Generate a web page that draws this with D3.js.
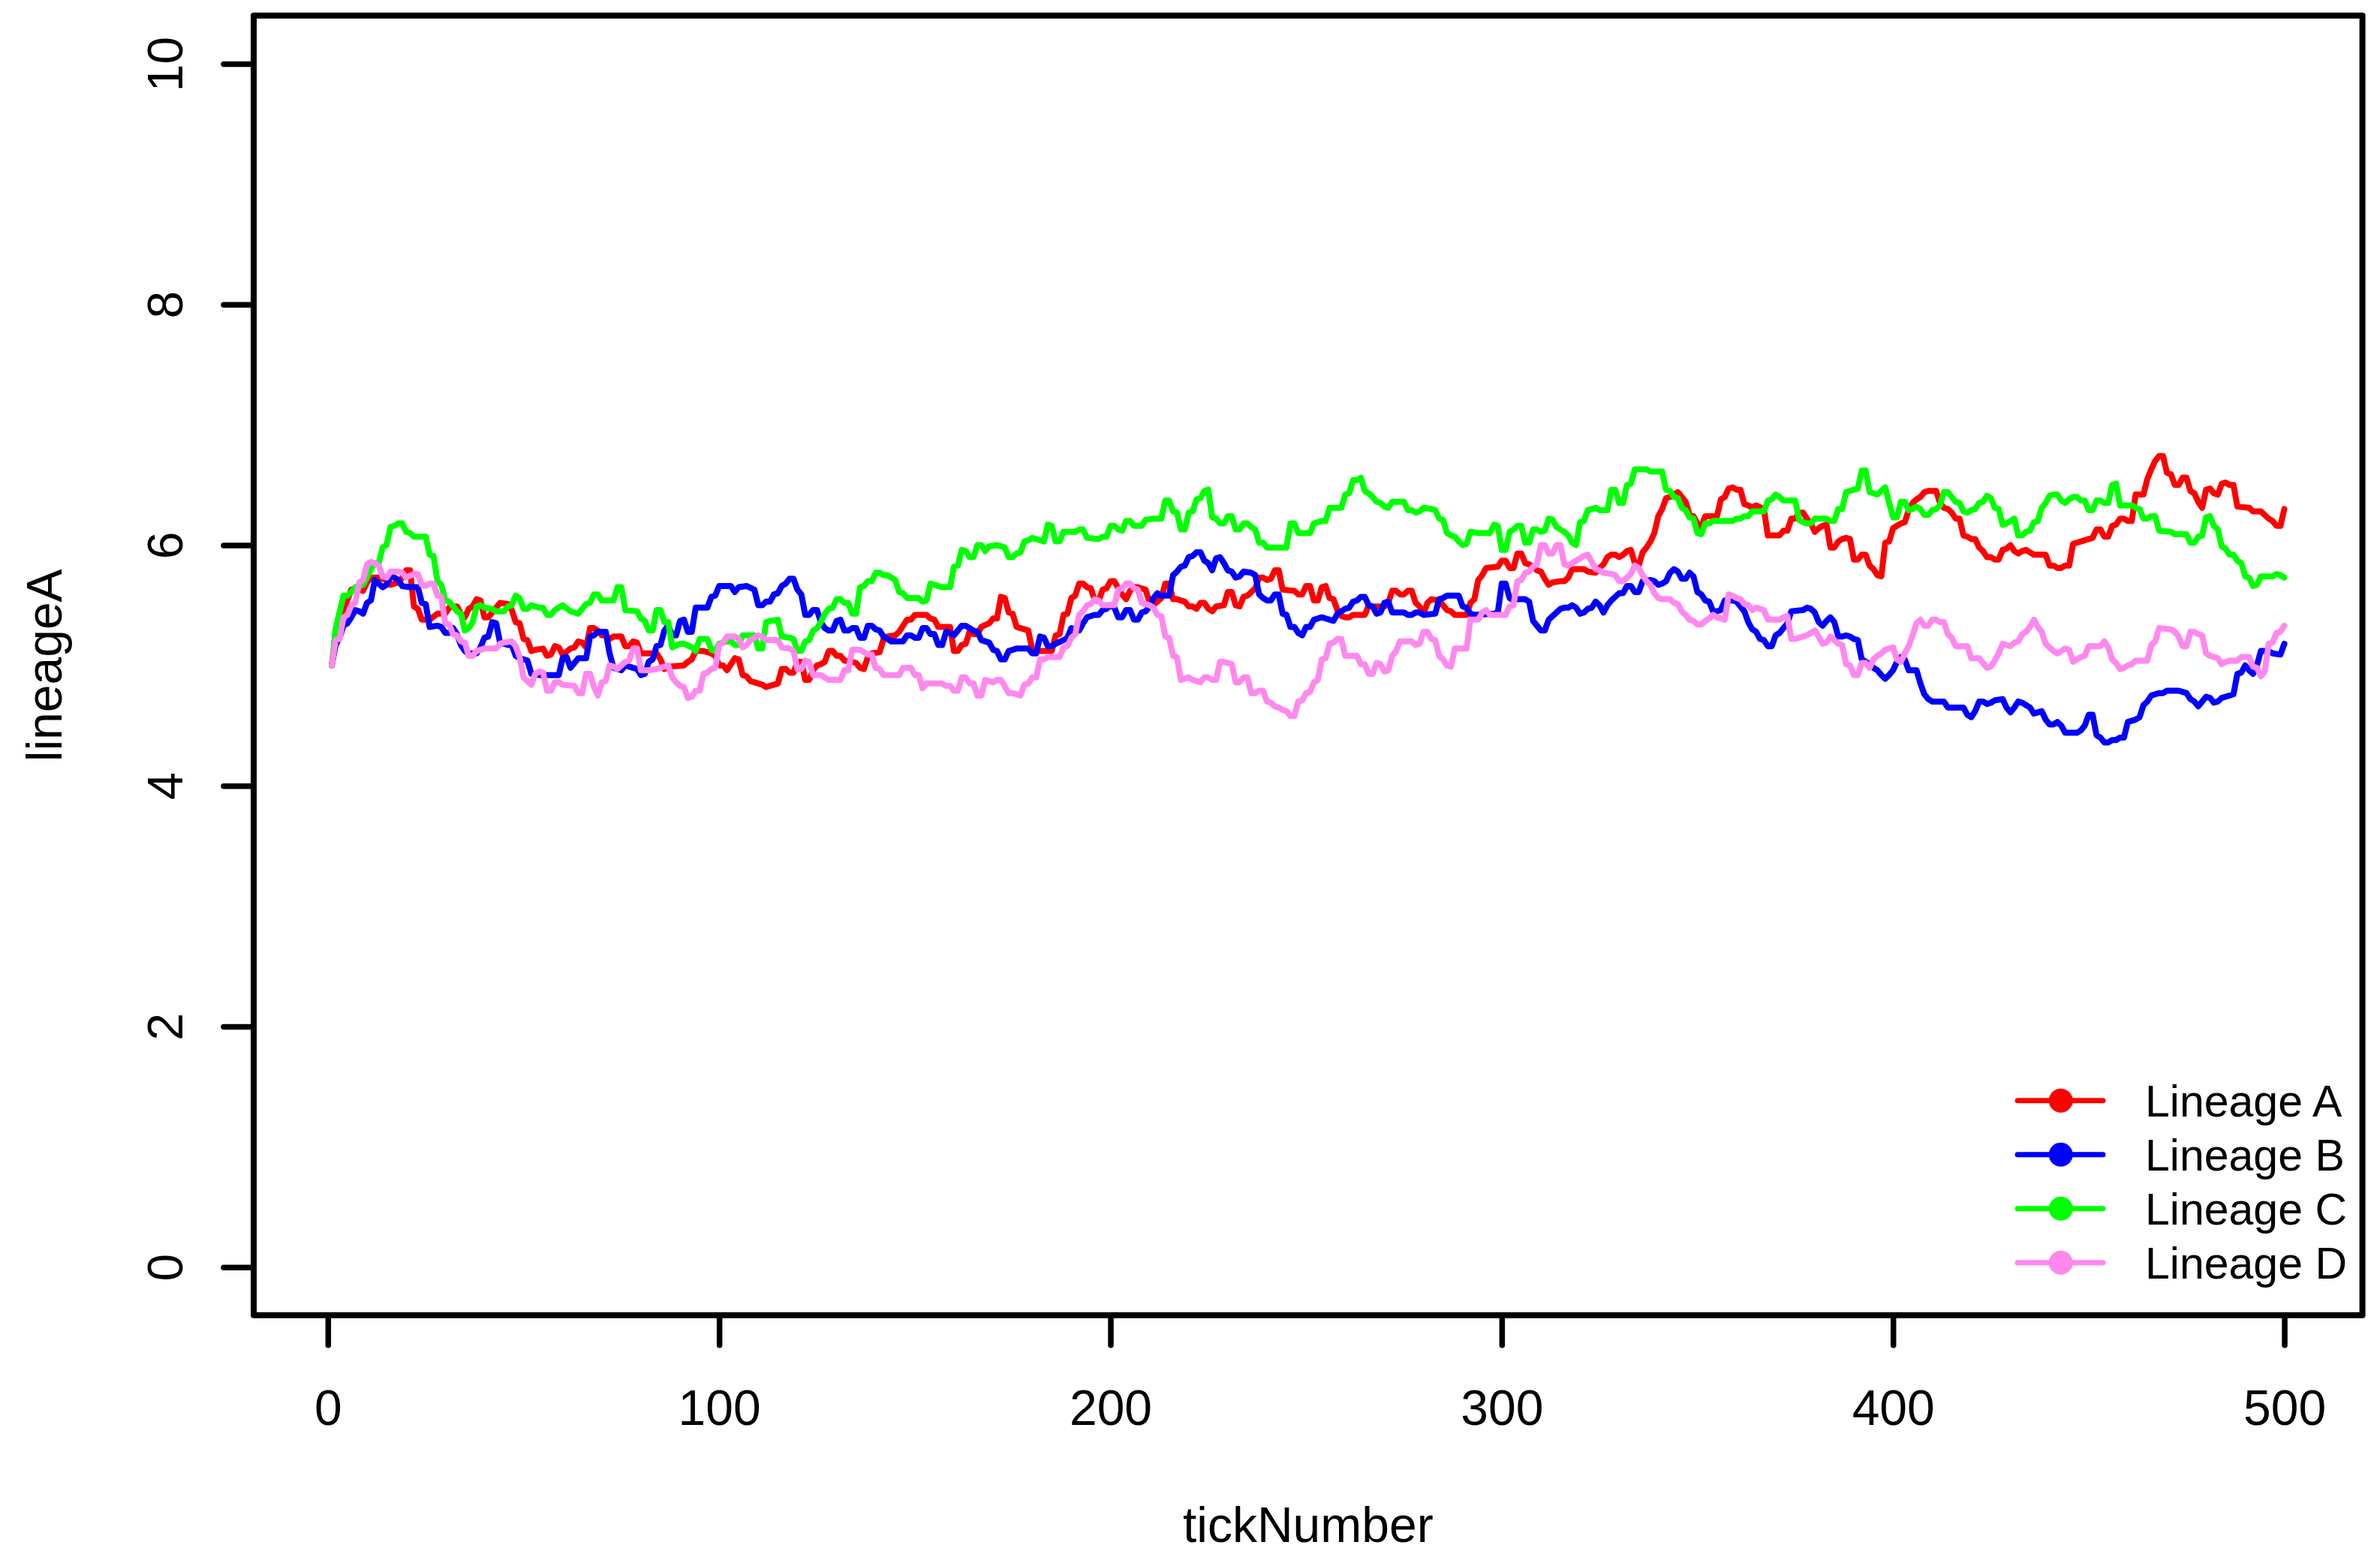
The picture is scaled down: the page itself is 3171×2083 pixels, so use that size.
<!DOCTYPE html>
<html>
<head>
<meta charset="utf-8">
<script src="https://cdn.jsdelivr.net/npm/d3@7"></script>
<style>
  body { margin: 0; background: #fff; }
  svg { display: block; }
  text { font-family: "Liberation Sans", Arial, Helvetica, sans-serif; }
</style>
</head>
<body>
<div class="app"></div>
<script>
// Data: [tickNumber, value]
const lineageA = [
  [1,5.00],[2,5.25],[4,5.46],[6,5.63],[7,5.64],[9,5.62],[10,5.69],[11,5.73],[13,5.73],[15,5.71],[16,5.67],[18,5.69],[19,5.73],[20,5.79],[21,5.79],[22,5.49],[23,5.47],[24,5.38],[26,5.38],[28,5.43],[30,5.43],[31,5.48],[33,5.49],[34,5.43],[35,5.40],[36,5.47],[37,5.49],[38,5.55],[39,5.54],[40,5.40],[41,5.40],[43,5.48],[44,5.52],[46,5.51],[47,5.46],[48,5.36],[49,5.35],[50,5.22],[51,5.21],[52,5.12],[53,5.13],[55,5.14],[56,5.08],[57,5.09],[58,5.16],[59,5.15],[60,5.09],[62,5.14],[63,5.15],
  [64,5.20],[65,5.19],[66,5.15],[67,5.31],[68,5.31],[69,5.29],[70,5.25],[71,5.25],[72,5.22],[73,5.24],[75,5.24],[76,5.16],[77,5.16],[78,5.20],[79,5.19],[80,5.10],[84,5.10],[85,5.05],[86,4.97],[87,4.99],[91,5.00],[92,5.03],[93,5.05],[94,5.12],[96,5.12],[98,5.10],[99,5.08],[100,5.00],[101,5.00],[102,4.96],[103,5.01],[104,5.06],[105,5.05],[106,4.92],[107,4.91],[108,4.87],[110,4.85],[111,4.84],[112,4.82],[114,4.84],[115,4.85],[116,4.97],[117,4.97],[118,4.94],[119,4.94],[120,5.03],[121,5.03],[122,4.88],[123,4.88],[124,4.96],[125,5.00],
  [126,5.01],[127,5.03],[128,5.12],[129,5.12],[130,5.08],[131,5.08],[132,5.04],[134,5.03],[135,5.02],[136,4.98],[137,4.97],[138,5.07],[139,5.10],[141,5.11],[142,5.22],[143,5.24],[145,5.25],[146,5.28],[147,5.33],[148,5.38],[149,5.38],[150,5.42],[153,5.42],[154,5.39],[155,5.38],[156,5.32],[159,5.32],[160,5.12],[161,5.12],[162,5.17],[163,5.18],[164,5.28],[165,5.26],[166,5.26],[167,5.32],[169,5.35],[170,5.39],[171,5.39],[172,5.57],[173,5.56],[174,5.44],[175,5.43],[176,5.32],[177,5.31],[178,5.30],[179,5.29],[180,5.13],[181,5.12],[185,5.12],[186,5.25],[187,5.26],[188,5.42],[189,5.43],
  [190,5.56],[191,5.58],[192,5.68],[193,5.68],[194,5.65],[195,5.64],[196,5.54],[197,5.54],[198,5.63],[199,5.64],[200,5.70],[201,5.70],[202,5.64],[203,5.59],[204,5.55],[205,5.62],[206,5.65],[207,5.65],[209,5.63],[210,5.52],[211,5.50],[212,5.53],[213,5.56],[214,5.68],[215,5.68],[216,5.55],[217,5.55],[219,5.53],[220,5.49],[221,5.49],[222,5.47],[223,5.52],[224,5.52],[225,5.47],[226,5.45],[227,5.49],[229,5.50],[230,5.61],[231,5.61],[232,5.50],[233,5.49],[234,5.57],[235,5.58],[236,5.61],[237,5.64],[238,5.73],[239,5.73],[240,5.71],[241,5.72],[242,5.79],[243,5.79],[244,5.63],[247,5.62],[248,5.59],[249,5.59],[250,5.66],[251,5.66],[252,5.54],[253,5.54],[254,5.65],
  [255,5.66],[256,5.56],[257,5.55],[258,5.46],[259,5.41],[260,5.40],[261,5.40],[262,5.42],[265,5.42],[266,5.50],[267,5.49],[270,5.49],[271,5.52],[272,5.62],[273,5.62],[274,5.59],[275,5.59],[276,5.62],[277,5.62],[278,5.52],[279,5.49],[280,5.43],[281,5.52],[282,5.55],[284,5.54],[285,5.50],[286,5.46],[287,5.45],[288,5.42],[291,5.42],[292,5.52],[293,5.55],[294,5.71],[295,5.75],[296,5.81],[299,5.82],[300,5.87],[301,5.87],[302,5.81],[303,5.81],[304,5.93],[305,5.93],[306,5.85],[307,5.84],[308,5.82],[309,5.79],[310,5.78],[311,5.72],[312,5.67],[313,5.69],[315,5.70],[316,5.70],[317,5.73],
  [318,5.80],[321,5.80],[322,5.78],[324,5.77],[325,5.81],[326,5.84],[327,5.90],[328,5.92],[329,5.92],[330,5.90],[331,5.92],[332,5.95],[333,5.96],[334,5.85],[335,5.83],[336,5.94],[337,5.98],[338,6.03],[339,6.10],[340,6.24],[341,6.30],[342,6.39],[343,6.40],[344,6.42],[345,6.44],[346,6.40],[347,6.36],[348,6.25],[349,6.24],[350,6.18],[351,6.15],[352,6.24],[355,6.24],[356,6.38],[357,6.40],[358,6.47],[359,6.48],[360,6.46],[361,6.46],[362,6.34],[363,6.33],[364,6.31],[365,6.33],[367,6.30],[368,6.08],[371,6.08],[372,6.12],[373,6.12],[374,6.22],[375,6.22],[376,6.27],[377,6.27],[378,6.22],
  [379,6.18],[380,6.11],[381,6.14],[382,6.16],[383,6.17],[384,5.98],[385,5.98],[386,6.03],[387,6.05],[388,6.06],[389,6.05],[390,5.88],[391,5.88],[392,5.92],[393,5.92],[394,5.83],[395,5.80],[396,5.75],[397,5.74],[398,6.02],[399,6.03],[400,6.14],[401,6.16],[402,6.18],[403,6.19],[404,6.29],[405,6.35],[406,6.38],[407,6.40],[408,6.44],[409,6.45],[411,6.45],[412,6.35],[413,6.31],[414,6.30],[415,6.27],[416,6.22],[417,6.22],[418,6.08],[419,6.07],[420,6.05],[421,6.05],[422,5.98],[423,5.95],[424,5.90],[425,5.90],[426,5.88],[427,5.88],[428,5.96],[429,5.97],[430,6.00],[431,5.95],[432,5.93],[433,5.95],[434,5.96],[435,5.94],[436,5.92],[439,5.92],[440,5.83],[441,5.83],[442,5.81],[443,5.81],[444,5.83],
  [445,5.83],[446,6.01],[447,6.02],[448,6.03],[449,6.04],[450,6.05],[451,6.06],[452,6.13],[453,6.13],[454,6.07],[455,6.07],[456,6.16],[457,6.17],[458,6.22],[459,6.22],[460,6.20],[461,6.20],[462,6.42],[464,6.42],[465,6.55],[466,6.63],[467,6.70],[468,6.74],[469,6.74],[470,6.60],[471,6.59],[472,6.50],[473,6.50],[474,6.56],[475,6.56],[476,6.45],[477,6.43],[478,6.36],[479,6.31],[480,6.46],[481,6.47],[482,6.43],[483,6.42],[484,6.51],[485,6.52],[486,6.50],[487,6.50],[488,6.32],[491,6.31],[492,6.28],[494,6.28],[495,6.25],[496,6.22],[497,6.20],[498,6.16],[499,6.16],[500,6.30]
];

const lineageB = [
  [1,5.00],[2,5.17],[3,5.23],[4,5.33],[5,5.35],[6,5.40],[7,5.46],[8,5.45],[9,5.43],[10,5.52],[11,5.54],[12,5.71],[13,5.68],[14,5.65],[15,5.67],[16,5.74],[17,5.73],[18,5.71],[19,5.66],[21,5.65],[23,5.65],[24,5.52],[25,5.51],[26,5.32],[28,5.33],[29,5.32],[30,5.27],[31,5.27],[32,5.31],[33,5.26],[34,5.17],[35,5.12],[36,5.10],[38,5.10],[39,5.15],[40,5.23],[41,5.24],[42,5.36],[43,5.35],[44,5.19],[46,5.17],[47,5.17],[48,5.08],[49,5.06],[51,5.04],[52,4.93],[54,4.92],[59,4.92],[60,5.06],[61,5.07],[62,4.98],
  [64,5.06],[66,5.06],[67,5.24],[68,5.25],[69,5.28],[71,5.28],[72,5.10],[73,4.98],[75,4.96],[76,5.00],[77,4.99],[79,4.97],[80,4.92],[81,4.93],[82,5.03],[83,5.05],[84,5.16],[85,5.17],[86,5.29],[87,5.33],[88,5.25],[89,5.25],[90,5.37],[91,5.38],[92,5.28],[93,5.28],[94,5.48],[97,5.48],[98,5.57],[99,5.58],[100,5.66],[103,5.66],[104,5.61],[105,5.65],[107,5.66],[109,5.63],[110,5.50],[111,5.50],[112,5.53],[113,5.53],[114,5.59],[115,5.60],[116,5.66],[117,5.68],[118,5.72],[119,5.72],[120,5.63],[121,5.59],[122,5.42],[123,5.42],[124,5.46],[125,5.46],[126,5.36],[127,5.31],
  [128,5.29],[129,5.29],[130,5.37],[131,5.38],[132,5.29],[133,5.29],[134,5.31],[135,5.31],[136,5.23],[137,5.23],[138,5.33],[139,5.33],[140,5.30],[141,5.29],[142,5.24],[143,5.22],[144,5.20],[147,5.20],[148,5.25],[149,5.25],[150,5.23],[151,5.23],[152,5.31],[153,5.31],[154,5.26],[155,5.26],[156,5.17],[157,5.17],[158,5.28],[159,5.27],[160,5.25],[162,5.33],[163,5.33],[164,5.31],[165,5.29],[166,5.28],[167,5.21],[169,5.19],[170,5.13],[171,5.12],[172,5.05],[173,5.05],[174,5.12],[175,5.13],[176,5.14],[179,5.14],[180,5.10],[181,5.10],[182,5.24],[183,5.23],[184,5.16],[185,5.16],[186,5.18],[188,5.21],[189,5.23],[190,5.31],
  [191,5.30],[192,5.29],[193,5.35],[194,5.40],[195,5.41],[196,5.42],[197,5.42],[198,5.46],[199,5.47],[200,5.50],[201,5.48],[202,5.40],[203,5.40],[204,5.46],[205,5.46],[206,5.38],[207,5.38],[208,5.44],[209,5.45],[210,5.49],[211,5.56],[212,5.60],[213,5.58],[215,5.58],[216,5.75],[217,5.78],[218,5.82],[219,5.83],[220,5.90],[221,5.91],[222,5.94],[223,5.94],[224,5.87],[225,5.85],[226,5.79],[227,5.89],[228,5.90],[229,5.85],[230,5.79],[231,5.78],[232,5.73],[233,5.74],[234,5.78],[236,5.77],[237,5.75],[238,5.59],[239,5.56],[240,5.54],[241,5.54],[242,5.59],[243,5.59],[244,5.43],[245,5.42],[246,5.32],[247,5.32],[248,5.27],[249,5.25],[250,5.32],[251,5.32],[252,5.38],[253,5.39],
  [254,5.40],[255,5.39],[256,5.38],[257,5.37],[258,5.43],[259,5.45],[260,5.47],[261,5.48],[262,5.53],[263,5.54],[264,5.57],[265,5.57],[266,5.50],[267,5.49],[268,5.43],[269,5.44],[270,5.52],[271,5.53],[272,5.44],[275,5.44],[276,5.42],[277,5.42],[278,5.44],[279,5.44],[280,5.42],[283,5.43],[284,5.55],[285,5.56],[286,5.58],[289,5.58],[290,5.49],[291,5.48],[292,5.43],[293,5.42],[298,5.43],[299,5.44],[300,5.68],[301,5.68],[302,5.56],[303,5.54],[304,5.55],[306,5.55],[307,5.53],[308,5.37],[309,5.33],[310,5.29],[311,5.29],[312,5.38],[313,5.41],[314,5.44],[315,5.47],[316,5.48],[317,5.48],
  [318,5.50],[319,5.48],[320,5.43],[321,5.44],[322,5.47],[323,5.48],[324,5.53],[325,5.50],[326,5.44],[327,5.50],[328,5.54],[329,5.57],[330,5.60],[331,5.60],[332,5.66],[333,5.66],[334,5.61],[335,5.61],[336,5.70],[338,5.71],[339,5.70],[340,5.67],[341,5.68],[342,5.70],[343,5.77],[344,5.80],[345,5.78],[346,5.72],[347,5.72],[348,5.77],[349,5.74],[350,5.61],[351,5.59],[352,5.54],[353,5.53],[354,5.45],[355,5.45],[356,5.46],[357,5.54],[359,5.54],[360,5.53],[361,5.49],[362,5.45],[363,5.36],[364,5.30],[365,5.28],[366,5.22],[367,5.21],[368,5.16],[369,5.16],[370,5.25],[371,5.27],[372,5.31],[373,5.35],[374,5.45],[377,5.46],[378,5.48],[379,5.47],[380,5.44],
  [381,5.36],[382,5.33],[383,5.37],[384,5.40],[385,5.36],[386,5.24],[387,5.24],[388,5.25],[389,5.24],[390,5.22],[391,5.21],[392,5.05],[393,5.03],[394,5.01],[395,4.98],[396,4.96],[397,4.92],[398,4.89],[399,4.92],[400,4.96],[401,5.03],[402,5.07],[403,5.05],[404,4.96],[406,4.96],[407,4.85],[408,4.76],[409,4.72],[410,4.70],[413,4.70],[414,4.65],[418,4.65],[419,4.59],[420,4.57],[421,4.62],[422,4.70],[423,4.70],[424,4.68],[425,4.69],[426,4.71],[428,4.72],[429,4.65],[430,4.61],[431,4.65],[432,4.70],[433,4.69],[434,4.67],[435,4.65],[436,4.60],[437,4.61],[438,4.62],[439,4.55],[440,4.51],[441,4.51],[442,4.53],[443,4.50],[444,4.44],
  [447,4.44],[448,4.46],[449,4.50],[450,4.59],[451,4.59],[452,4.42],[453,4.40],[454,4.36],[455,4.36],[456,4.38],[457,4.38],[458,4.40],[459,4.40],[460,4.53],[461,4.54],[462,4.55],[463,4.57],[464,4.67],[465,4.70],[466,4.75],[467,4.76],[468,4.77],[469,4.77],[470,4.79],[473,4.79],[474,4.78],[475,4.77],[476,4.72],[477,4.70],[478,4.66],[479,4.70],[480,4.74],[481,4.73],[482,4.69],[483,4.70],[484,4.73],[485,4.74],[486,4.75],[487,4.76],[488,4.93],[489,4.94],[490,5.00],[491,4.96],[492,4.93],[493,5.00],[494,5.12],[496,5.12],[497,5.10],[499,5.09],[500,5.18]
];

const lineageC = [
  [1,5.00],[2,5.31],[4,5.58],[5,5.58],[6,5.61],[7,5.65],[9,5.67],[10,5.73],[11,5.80],[12,5.85],[13,5.85],[14,5.98],[15,6.00],[16,6.15],[17,6.16],[18,6.18],[19,6.18],[20,6.11],[21,6.10],[22,6.07],[25,6.07],[26,5.92],[27,5.91],[28,5.70],[29,5.67],[30,5.54],[31,5.53],[33,5.45],[34,5.43],[35,5.29],[36,5.31],[37,5.36],[38,5.49],[39,5.50],[40,5.48],[42,5.47],[43,5.45],[45,5.45],[46,5.49],[47,5.50],[48,5.58],[49,5.56],[50,5.47],[51,5.47],[52,5.50],[54,5.48],[55,5.48],[56,5.42],[57,5.42],[58,5.46],[60,5.50],[62,5.45],[63,5.44],
  [64,5.43],[66,5.51],[67,5.52],[68,5.59],[69,5.59],[70,5.54],[73,5.54],[74,5.65],[75,5.65],[76,5.46],[79,5.45],[80,5.39],[81,5.37],[82,5.29],[83,5.29],[84,5.46],[85,5.46],[86,5.36],[87,5.36],[88,5.15],[90,5.18],[91,5.18],[93,5.15],[94,5.12],[95,5.22],[97,5.22],[98,5.13],[99,5.12],[100,5.18],[102,5.20],[103,5.20],[104,5.17],[105,5.17],[106,5.25],[109,5.25],[110,5.14],[111,5.14],[112,5.36],[113,5.37],[115,5.38],[116,5.24],[118,5.23],[119,5.22],[120,5.12],[121,5.12],[122,5.20],[123,5.21],[124,5.29],[125,5.31],[126,5.36],[127,5.43],
  [128,5.47],[129,5.48],[130,5.55],[131,5.55],[132,5.52],[133,5.52],[134,5.43],[135,5.43],[136,5.65],[137,5.66],[138,5.70],[139,5.70],[140,5.77],[141,5.77],[142,5.75],[143,5.75],[144,5.73],[145,5.71],[146,5.61],[147,5.60],[148,5.56],[151,5.56],[152,5.53],[153,5.54],[154,5.68],[155,5.67],[157,5.65],[159,5.65],[160,5.82],[161,5.83],[162,5.96],[163,5.95],[164,5.90],[165,5.90],[166,6.00],[167,6.00],[168,5.95],[169,5.99],[171,6.00],[173,5.98],[174,5.90],[175,5.90],[176,5.93],[177,5.94],[178,6.03],[179,6.04],[180,6.06],[182,6.04],[183,6.03],[184,6.17],[185,6.16],[186,6.03],[187,6.03],[188,6.11],[190,6.11],
  [191,6.11],[192,6.13],[193,6.13],[194,6.06],[197,6.05],[198,6.07],[199,6.07],[200,6.16],[201,6.16],[202,6.13],[203,6.12],[204,6.20],[205,6.20],[206,6.16],[208,6.16],[209,6.21],[211,6.22],[213,6.22],[214,6.37],[215,6.37],[216,6.28],[217,6.27],[218,6.13],[219,6.13],[220,6.27],[221,6.28],[222,6.38],[223,6.39],[224,6.45],[225,6.46],[226,6.23],[227,6.22],[228,6.18],[229,6.18],[230,6.24],[231,6.24],[232,6.13],[233,6.13],[234,6.18],[235,6.18],[236,6.15],[237,6.13],[238,6.02],[239,6.02],[240,5.98],[245,5.98],[246,6.18],[247,6.18],[248,6.10],[251,6.10],[252,6.18],[253,6.19],
  [254,6.20],[255,6.20],[256,6.31],[259,6.31],[260,6.42],[261,6.43],[262,6.54],[263,6.54],[264,6.56],[265,6.45],[266,6.43],[267,6.40],[268,6.36],[269,6.35],[270,6.32],[271,6.31],[272,6.36],[275,6.36],[276,6.29],[277,6.29],[278,6.27],[279,6.28],[280,6.31],[282,6.30],[283,6.29],[284,6.22],[285,6.21],[286,6.10],[287,6.08],[288,6.07],[289,6.03],[290,6.00],[291,6.01],[292,6.11],[294,6.10],[297,6.10],[298,6.17],[299,6.16],[300,5.96],[301,5.96],[302,6.11],[303,6.13],[304,6.16],[305,6.16],[306,6.02],[307,6.02],[308,6.13],[309,6.13],[310,6.11],[311,6.12],[312,6.22],[313,6.21],[314,6.15],[315,6.13],[316,6.11],[317,6.08],
  [318,6.02],[319,6.00],[320,6.19],[321,6.20],[322,6.29],[323,6.30],[324,6.31],[325,6.29],[327,6.29],[328,6.46],[329,6.46],[330,6.35],[331,6.35],[332,6.50],[333,6.51],[334,6.63],[337,6.63],[338,6.61],[341,6.61],[342,6.46],[343,6.45],[344,6.40],[345,6.39],[346,6.31],[347,6.29],[348,6.23],[349,6.22],[350,6.10],[351,6.09],[352,6.18],[353,6.18],[354,6.20],[359,6.20],[360,6.22],[361,6.22],[362,6.24],[363,6.24],[364,6.28],[367,6.28],[368,6.37],[369,6.38],[370,6.42],[371,6.40],[372,6.37],[375,6.37],[376,6.21],[377,6.19],[378,6.18],[379,6.18],[380,6.22],
  [381,6.22],[383,6.22],[384,6.20],[385,6.20],[386,6.30],[387,6.30],[388,6.44],[389,6.45],[390,6.46],[391,6.47],[392,6.62],[393,6.62],[394,6.44],[395,6.43],[396,6.42],[397,6.45],[398,6.48],[399,6.35],[400,6.23],[401,6.23],[402,6.36],[403,6.36],[404,6.29],[405,6.30],[406,6.32],[407,6.30],[408,6.25],[409,6.25],[410,6.29],[411,6.30],[412,6.33],[413,6.44],[414,6.44],[415,6.40],[416,6.36],[417,6.35],[418,6.28],[419,6.27],[420,6.29],[421,6.30],[422,6.35],[423,6.36],[424,6.41],[425,6.39],[426,6.31],[427,6.30],[428,6.17],[429,6.18],[430,6.20],[431,6.22],[432,6.08],[433,6.08],[434,6.11],[435,6.12],[436,6.19],[437,6.20],[438,6.31],[439,6.35],[440,6.41],[441,6.42],[442,6.42],[443,6.37],[444,6.35],
  [445,6.38],[446,6.40],[447,6.40],[448,6.37],[449,6.37],[450,6.29],[451,6.29],[452,6.37],[453,6.37],[454,6.35],[455,6.35],[456,6.50],[457,6.51],[458,6.33],[461,6.33],[462,6.31],[463,6.30],[464,6.22],[465,6.22],[466,6.24],[467,6.24],[468,6.12],[471,6.11],[472,6.09],[475,6.09],[476,6.02],[477,6.02],[478,6.07],[479,6.08],[480,6.23],[481,6.24],[482,6.16],[483,6.13],[484,5.99],[485,5.97],[486,5.92],[487,5.92],[488,5.87],[489,5.85],[490,5.74],[491,5.73],[492,5.66],[493,5.67],[494,5.74],[497,5.74],[498,5.76],[499,5.75],[500,5.73]
];

const lineageD = [
  [1,5.00],[2,5.21],[3,5.22],[4,5.40],[5,5.42],[6,5.50],[7,5.52],[8,5.69],[9,5.71],[10,5.84],[11,5.86],[12,5.85],[13,5.83],[14,5.74],[15,5.73],[16,5.78],[18,5.78],[19,5.77],[20,5.73],[22,5.76],[23,5.76],[24,5.67],[25,5.66],[26,5.68],[27,5.68],[28,5.58],[29,5.57],[30,5.35],[31,5.34],[32,5.26],[33,5.25],[34,5.20],[35,5.19],[36,5.08],[37,5.08],[38,5.12],[40,5.14],[43,5.14],[44,5.18],[45,5.19],[47,5.20],[48,5.16],[49,5.07],[50,4.90],[51,4.87],[52,4.84],[53,4.93],[54,4.95],[55,4.94],[56,4.79],[57,4.79],[58,4.86],[59,4.86],[60,4.84],[63,4.83],
  [64,4.77],[65,4.77],[66,4.93],[67,4.93],[68,4.82],[69,4.75],[70,4.86],[71,4.87],[72,5.00],[73,4.99],[74,4.97],[76,5.03],[77,5.04],[78,5.14],[79,5.14],[80,4.96],[82,4.96],[84,4.97],[85,4.98],[87,5.00],[88,4.90],[89,4.86],[90,4.83],[91,4.82],[92,4.73],[93,4.74],[94,4.79],[95,4.79],[96,4.93],[97,4.94],[98,4.97],[99,4.98],[100,5.17],[101,5.19],[102,5.24],[104,5.24],[105,5.22],[106,5.15],[107,5.17],[108,5.21],[109,5.23],[110,5.25],[111,5.24],[112,5.21],[115,5.21],[116,5.15],[118,5.14],[119,5.12],[120,4.97],[121,4.97],[122,5.04],[123,5.03],[124,4.92],
  [126,4.92],[127,4.90],[128,4.88],[131,4.88],[132,4.96],[133,4.96],[134,5.13],[136,5.13],[137,5.11],[138,5.09],[139,5.09],[140,4.98],[141,4.97],[142,4.92],[146,4.92],[147,4.98],[149,4.98],[150,4.92],[151,4.92],[152,4.81],[153,4.85],[157,4.85],[158,4.83],[159,4.83],[160,4.79],[161,4.79],[162,4.90],[163,4.90],[164,4.85],[165,4.85],[166,4.75],[167,4.75],[168,4.88],[169,4.87],[170,4.86],[171,4.88],[172,4.88],[174,4.77],[175,4.77],[177,4.75],[178,4.84],[179,4.85],[180,4.90],[181,4.90],[182,5.05],[183,5.05],[184,5.07],[187,5.07],[188,5.15],[189,5.16],[190,5.23],[191,5.26],
  [192,5.42],[193,5.45],[194,5.50],[195,5.51],[196,5.55],[197,5.54],[198,5.50],[201,5.50],[202,5.63],[203,5.64],[204,5.68],[205,5.68],[206,5.64],[207,5.63],[208,5.52],[209,5.51],[210,5.50],[211,5.48],[212,5.42],[213,5.41],[214,5.24],[215,5.23],[216,5.08],[217,5.07],[218,4.88],[219,4.89],[220,4.90],[221,4.88],[222,4.87],[223,4.86],[224,4.90],[225,4.90],[226,4.88],[227,4.88],[228,5.03],[229,5.03],[231,5.01],[232,4.86],[233,4.86],[234,4.90],[235,4.90],[236,4.77],[237,4.77],[238,4.79],[239,4.79],[240,4.70],[241,4.69],[242,4.66],[243,4.65],[244,4.63],[245,4.62],[246,4.58],[247,4.58],[248,4.70],[249,4.71],[250,4.77],[251,4.78],[252,4.86],[253,4.88],[254,5.05],
  [255,5.06],[256,5.18],[257,5.19],[258,5.22],[259,5.22],[260,5.08],[263,5.08],[264,5.01],[265,5.01],[266,4.93],[267,4.93],[268,5.02],[269,5.01],[270,4.95],[271,4.96],[272,5.08],[273,5.12],[274,5.20],[277,5.20],[278,5.17],[279,5.18],[280,5.28],[281,5.28],[282,5.22],[283,5.21],[284,5.08],[285,5.05],[286,5.00],[287,4.99],[288,5.14],[291,5.14],[292,5.38],[294,5.38],[295,5.44],[296,5.46],[297,5.42],[301,5.42],[302,5.49],[303,5.50],[304,5.70],[305,5.71],[306,5.77],[307,5.78],[308,5.82],[309,5.84],[310,6.00],[311,6.00],[312,5.93],[313,5.93],[314,6.00],[315,6.00],[316,5.84],[317,5.83],
  [318,5.85],[319,5.87],[320,5.89],[321,5.91],[322,5.92],[323,5.86],[324,5.80],[325,5.79],[326,5.77],[328,5.76],[329,5.75],[330,5.70],[331,5.70],[332,5.73],[333,5.76],[334,5.83],[335,5.81],[336,5.75],[337,5.70],[338,5.67],[339,5.60],[340,5.56],[341,5.55],[343,5.55],[344,5.52],[345,5.51],[346,5.45],[347,5.42],[348,5.38],[349,5.37],[350,5.34],[351,5.34],[352,5.37],[353,5.39],[354,5.42],[355,5.40],[357,5.38],[358,5.59],[359,5.58],[360,5.56],[361,5.55],[362,5.51],[363,5.50],[364,5.46],[365,5.48],[367,5.46],[368,5.38],[371,5.38],[372,5.40],[373,5.41],[374,5.22],[375,5.22],[376,5.23],[377,5.24],[378,5.25],[379,5.27],[380,5.29],
  [381,5.24],[382,5.18],[383,5.19],[384,5.24],[385,5.21],[386,5.18],[387,5.17],[388,5.01],[389,5.00],[390,4.92],[391,4.92],[392,5.02],[393,5.02],[394,4.98],[395,5.05],[396,5.08],[397,5.10],[398,5.13],[399,5.14],[400,5.15],[401,5.05],[402,5.03],[403,5.10],[404,5.16],[405,5.25],[406,5.35],[407,5.38],[408,5.33],[409,5.33],[410,5.38],[411,5.38],[412,5.36],[413,5.36],[414,5.26],[415,5.23],[416,5.16],[419,5.16],[420,5.06],[422,5.06],[423,5.02],[424,4.98],[425,4.99],[426,5.04],[427,5.10],[428,5.18],[429,5.17],[430,5.16],[431,5.19],[432,5.20],[433,5.26],[434,5.28],[435,5.32],[436,5.38],[437,5.32],[438,5.28],[439,5.18],[440,5.15],[441,5.12],[442,5.10],[443,5.12],[444,5.14],
  [445,5.13],[446,5.03],[447,5.05],[448,5.07],[449,5.08],[450,5.16],[453,5.16],[454,5.20],[455,5.15],[456,5.05],[457,5.02],[458,4.97],[459,4.98],[460,5.00],[461,5.01],[462,5.04],[465,5.04],[466,5.17],[467,5.20],[468,5.31],[471,5.30],[472,5.28],[473,5.24],[474,5.16],[475,5.16],[476,5.28],[477,5.28],[478,5.26],[479,5.25],[480,5.10],[481,5.08],[482,5.07],[483,5.06],[484,5.01],[485,5.03],[486,5.04],[488,5.04],[489,5.07],[491,5.07],[492,4.99],[493,4.98],[494,4.91],[495,4.95],[496,5.18],[497,5.19],[498,5.27],[499,5.28],[500,5.33]
];

const seriesNames = ['Lineage A', 'Lineage B', 'Lineage C', 'Lineage D'];
const seriesData = [lineageA, lineageB, lineageC, lineageD];
const xTicks = [0, 100, 200, 300, 400, 500];
const yTicks = [0, 2, 4, 6, 8, 10];
const xTitle = 'tickNumber';
const yTitle = 'lineageA';

// Styles
const colors = ['#ff0000', '#0000ff', '#00ff00', '#ff88ee'];
const FONT = 66;
const LEGEND_FONT = 59;

// Setup
const width = 3171;
const height = 2083;
const plot = { left: 338, right: 3147.6, top: 20.8, bottom: 1752.8 };

const svg = d3.select('.app')
  .append('svg')
  .attr('width', width)
  .attr('height', height)
  .attr('viewBox', [0, 0, width, height]);

svg.append('rect')
  .attr('width', width)
  .attr('height', height)
  .attr('fill', '#fff');

// R-style 4% padded domains
const x = d3.scaleLinear()
  .domain([1 - 0.04 * 499, 500 + 0.04 * 499])
  .range([plot.left, plot.right]);

const y = d3.scaleLinear()
  .domain([-0.4, 10.4])
  .range([plot.bottom, plot.top]);

// Lines
const line = d3.line()
  .x(d => x(d[0]))
  .y(d => y(d[1]));

svg.append('g')
  .attr('fill', 'none')
  .attr('stroke-width', 8)
  .attr('stroke-linejoin', 'round')
  .attr('stroke-linecap', 'round')
  .selectAll('path')
  .data(seriesData)
  .join('path')
  .attr('stroke', (d, i) => colors[i])
  .attr('d', line);

// Axes
const xAxis = svg.append('g')
  .attr('transform', `translate(0,${plot.bottom})`)
  .call(d3.axisBottom(x).tickValues(xTicks).tickSize(40).tickPadding(59).tickFormat(d3.format('d')));

const yAxis = svg.append('g')
  .attr('transform', `translate(${plot.left},0)`)
  .call(d3.axisLeft(y).tickValues(yTicks).tickSize(40).tickFormat(d3.format('d')));

[xAxis, yAxis].forEach(g => {
  g.select('.domain').remove();
  g.attr('font-family', null).attr('font-size', FONT);
  g.selectAll('line')
    .attr('stroke', '#000')
    .attr('stroke-width', 7.5)
    .attr('stroke-linecap', 'round');
  g.selectAll('text').attr('fill', '#000');
});

yAxis.selectAll('text')
  .attr('x', null)
  .attr('dy', null)
  .attr('text-anchor', 'middle')
  .attr('transform', 'translate(-95,0) rotate(-90)');

// Box
svg.append('rect')
  .attr('x', plot.left)
  .attr('y', plot.top)
  .attr('width', plot.right - plot.left)
  .attr('height', plot.bottom - plot.top)
  .attr('fill', 'none')
  .attr('stroke', '#000')
  .attr('stroke-width', 8)
  .attr('stroke-linejoin', 'round');

// Axis titles
svg.append('text')
  .attr('x', (plot.left + plot.right) / 2)
  .attr('y', 2055)
  .attr('text-anchor', 'middle')
  .attr('font-size', FONT)
  .text(xTitle);

svg.append('text')
  .attr('transform', `translate(82,${(plot.top + plot.bottom) / 2}) rotate(-90)`)
  .attr('text-anchor', 'middle')
  .attr('font-size', FONT)
  .text(yTitle);

// Legend
const legend = svg.append('g')
  .attr('transform', 'translate(2688,1466.7)');

const item = legend.selectAll('g')
  .data(seriesNames)
  .join('g')
  .attr('transform', (d, i) => `translate(0,${i * 72})`);

item.append('line')
  .attr('x1', 0)
  .attr('x2', 114)
  .attr('stroke', (d, i) => colors[i])
  .attr('stroke-width', 7)
  .attr('stroke-linecap', 'round');

item.append('circle')
  .attr('cx', 57.7)
  .attr('r', 16)
  .attr('fill', (d, i) => colors[i]);

item.append('text')
  .attr('x', 170)
  .attr('dy', '0.36em')
  .attr('font-size', LEGEND_FONT)
  .text(d => d);
</script>
</body>
</html>
